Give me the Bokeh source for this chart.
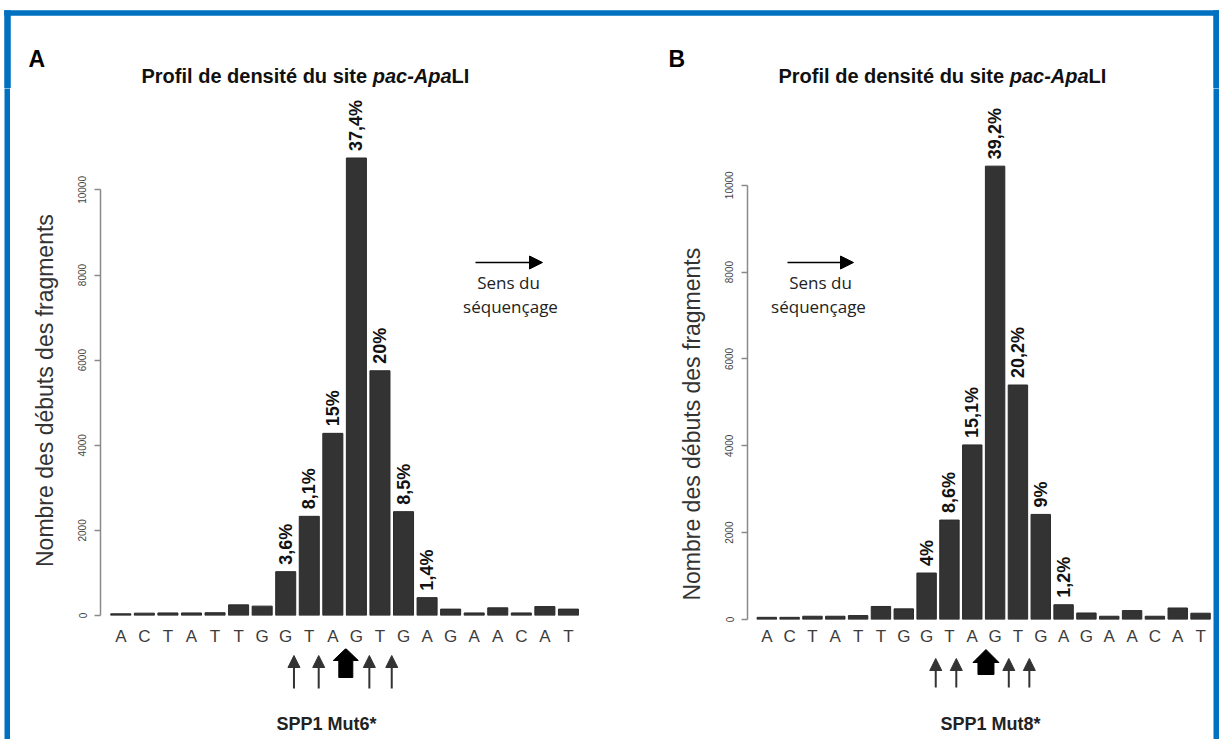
import math
from bokeh.plotting import figure
from bokeh.models import Range1d, FixedTicker, Arrow, NormalHead
from bokeh.layouts import row, column
from bokeh.embed import file_html
from bokeh.resources import INLINE
from bokeh.core.properties import value

# ---------------- data ----------------
letters = list("ACTATTGGTAGTGAGAACAT")
counts_A = [40, 55, 60, 60, 65, 250, 220, 1030, 2330, 4280, 10750, 5750, 2440, 420, 150, 60, 180, 60, 210, 150]
counts_B = [50, 50, 75, 75, 90, 300, 245, 1070, 2290, 4020, 10440, 5400, 2420, 340, 150, 75, 205, 75, 265, 145]
pct_idx = [7, 8, 9, 10, 11, 12, 13]
pct_A = ["3,6%", "8,1%", "15%", "37,4%", "20%", "8,5%", "1,4%"]
pct_B = ["4%", "8,6%", "15,1%", "39,2%", "20,2%", "9%", "1,2%"]
y_ticks = [0, 2000, 4000, 6000, 8000, 10000]
cut_sites_A = [7.35, 8.4, 9.55, 10.55, 11.5]
cut_sites_B = [7.4, 8.3, 9.6, 10.6, 11.5]
main_cut = 2
strain_A = "SPP1 Mut6*"
strain_B = "SPP1 Mut8*"
panel_letters = ["A", "B"]
title_parts = ["Profil de densité du site", "pac-Apa", "LI"]
y_label = "Nombre des débuts des fragments"
seq_label = ["Sens du", "séquençage"]

BLUE = "#0070C0"
BAR = "#333333"
FONT = "Liberation Sans"

# layout (page pixel) constants
PAGE_W = 1219
BORDER_TOP = 10
BORDER_BOT = 15
MAIN_TOP = 88
FOOT_TOP = 648
PAGE_BOTTOM = 739
LEFT_OUT = 4
CONTENT_LEFT = 10
CONTENT_RIGHT = 1213


def blank(w, h, x0, y0, fill="white"):
    b = figure(width=w, height=h, x_range=Range1d(x0, x0 + w), y_range=Range1d(y0 + h, y0),
               toolbar_location=None, output_backend="svg", min_border=0,
               x_axis_location=None, y_axis_location=None, outline_line_color=None,
               border_fill_color=fill, background_fill_color=fill)
    b.grid.visible = False
    return b


def make_panel(counts, pcts, sites, strain, g):
    slot = g["slot"]
    fl = g["frame_left_px"]
    x_start = (fl - g["x0_px"]) / slot
    x_end = x_start + g["frame_w"] / slot
    y_end = (g["base_py"] - MAIN_TOP) / g["yscale"]
    xr = Range1d(x_start, x_end)

    def xd(px):
        return x_start + (px - fl) / slot

    def yd(py):
        return (g["base_py"] - py) / g["yscale"]

    h_main = FOOT_TOP - MAIN_TOP
    lab = blank(g["lab_w"], h_main, g["x_left"], MAIN_TOP)
    lab.text(x=[g["ylab"][0]], y=[g["ylab"][1]], text=[y_label], angle=math.pi / 2,
             text_align="center", text_baseline="middle", text_font=value(FONT),
             text_font_size="23px", text_color="#333333")

    main_w = g["fig_w"] - g["lab_w"]
    left = fl - (g["x_left"] + g["lab_w"])
    right = main_w - left - g["frame_w"]
    p = figure(width=main_w, height=h_main, x_range=xr, y_range=Range1d(0, y_end),
               toolbar_location=None, output_backend="svg",
               min_border_left=left, min_border_right=right,
               min_border_top=0, min_border_bottom=g["mb_bottom"],
               outline_line_color=None)
    p.grid.visible = False

    idx = list(range(len(counts)))
    p.vbar(x=idx, top=counts, bottom=0, width=0.85, fill_color=BAR, line_color="#2a2a2a", line_width=1)

    p.text(x=pct_idx, y=[counts[i] for i in pct_idx], text=pcts, angle=math.pi / 2,
           text_align="left", text_baseline="middle", y_offset=-7,
           text_font=value(FONT), text_font_style="bold", text_font_size="18px", text_color="#111111")

    xa = p.xaxis[0]
    xa.ticker = FixedTicker(ticks=idx)
    xa.major_label_overrides = {i: l for i, l in enumerate(letters)}
    xa.axis_line_color = None
    xa.major_tick_line_color = None
    xa.minor_tick_line_color = None
    xa.major_tick_out = 0
    xa.major_tick_in = 0
    xa.major_label_standoff = g["std"]
    xa.major_label_text_font = FONT
    xa.major_label_text_font_size = "17px"
    xa.major_label_text_color = "#3c3c3c"

    ya = p.yaxis[0]
    ya.ticker = FixedTicker(ticks=y_ticks)
    ya.bounds = (0, 10000)
    ya.axis_line_color = "#8a8a8a"
    ya.axis_line_width = 1.5
    ya.major_tick_line_color = "#8a8a8a"
    ya.major_tick_line_width = 1.5
    ya.major_tick_out = 6
    ya.major_tick_in = 0
    ya.minor_tick_line_color = None
    ya.major_label_orientation = "vertical"
    ya.major_label_standoff = 8
    ya.major_label_text_font = FONT
    ya.major_label_text_font_size = "10px"
    ya.major_label_text_color = "#444444"

    sa = g["seq_arrow"]
    p.add_layout(Arrow(end=NormalHead(size=13, fill_color="black", line_color="black"),
                       x_start=xd(sa[0]), y_start=yd(sa[2]), x_end=xd(sa[1]), y_end=yd(sa[2]),
                       line_width=1.5, line_color="black"))
    p.text(x=[xd(g["seq_text"][0][0]), xd(g["seq_text"][1][0])],
           y=[yd(g["seq_text"][0][1]), yd(g["seq_text"][1][1])], text=seq_label,
           text_align="center", text_baseline="middle", text_font=value("Open Sans"),
           text_font_size="17px", text_color="#222222")

    f = figure(width=g["fig_w"], height=PAGE_BOTTOM - FOOT_TOP, x_range=xr,
               y_range=Range1d(PAGE_BOTTOM, FOOT_TOP), toolbar_location=None, output_backend="svg",
               min_border_left=fl - g["x_left"], min_border_right=right, min_border_top=0, min_border_bottom=0,
               x_axis_location=None, y_axis_location=None, outline_line_color=None)
    f.grid.visible = False
    ta = g["thin"]
    for k, s in enumerate(sites):
        if k == main_cut:
            tk = g["thick"]
            hh = tk["head_half"] / slot
            sh = tk["shaft_half"] / slot
            f.patch([s, s + hh, s + sh, s + sh, s - sh, s - sh, s - hh],
                    [tk["tip"], tk["base"], tk["base"], tk["bottom"], tk["bottom"], tk["base"], tk["base"]],
                    fill_color="black", line_color="black", line_width=1)
        else:
            f.add_layout(Arrow(end=NormalHead(size=12, fill_color="#333333", line_color="#333333"),
                               x_start=s, y_start=ta[1], x_end=s, y_end=ta[0],
                               line_width=2, line_color="#333333"))
    f.text(x=[xd(g["strain_pos"][0])], y=[g["strain_pos"][1]], text=[strain],
           text_align="center", text_baseline="middle", text_font=value(FONT),
           text_font_style="bold", text_font_size="18px", text_color="#222222")
    return column(row(lab, p, spacing=0), f, spacing=0)


geo_A = dict(x_left=10, fig_w=610, lab_w=60, frame_w=488, slot=23.56, x0_px=120.3, frame_left_px=100,
             base_py=618, yscale=0.0428, std=11, mb_bottom=30, ylab=(44, 409),
             seq_arrow=(475, 542, 263), seq_text=((508, 283), (510, 307)),
             thin=(655, 688), thick=dict(tip=648, base=660, bottom=677, head_half=12.5, shaft_half=7),
             strain_pos=(326, 723))
geo_B = dict(x_left=620, fig_w=593, lab_w=90, frame_w=465, slot=22.83, x0_px=766.3, frame_left_px=747,
             base_py=622, yscale=0.04367, std=7, mb_bottom=26, ylab=(691, 442),
             seq_arrow=(787, 853, 263), seq_text=((820, 283), (818, 307)),
             thin=(658, 687), thick=dict(tip=649, base=662, bottom=674, head_half=13, shaft_half=8),
             strain_pos=(990, 723))

panel_A = make_panel(counts_A, pct_A, cut_sites_A, strain_A, geo_A)
panel_B = make_panel(counts_B, pct_B, cut_sites_B, strain_B, geo_B)

# header: blue frame top and sides, panel letters and titles (page-pixel coordinates)
hdr = blank(PAGE_W, MAIN_TOP, 0, 0)
hdr.quad(left=[LEFT_OUT, LEFT_OUT, CONTENT_RIGHT], right=[PAGE_W + 2, CONTENT_LEFT, PAGE_W + 2],
         top=[BORDER_TOP, BORDER_TOP, BORDER_TOP], bottom=[BORDER_BOT, MAIN_TOP + 3, MAIN_TOP + 3],
         fill_color=BLUE, line_color=BLUE, line_width=0.5)
hdr.text(x=[28, 668], y=[45, 45], text=panel_letters, text_align="left", text_baseline="top",
         text_font=value(FONT), text_font_style="bold", text_font_size="23px", text_color="black")
TS = 20
w1 = 11.559 * TS
w2 = 3.945 * TS
for x0 in (141, 778):
    hdr.text(x=[x0], y=[75], text=[title_parts[0]], text_align="left", text_baseline="alphabetic",
             text_font=value(FONT), text_font_style="bold", text_font_size=f"{TS}px", text_color="#111111")
    hdr.text(x=[x0 + w1], y=[75], text=[title_parts[1]], text_align="left", text_baseline="alphabetic",
             text_font=value(FONT), text_font_style="bold italic", text_font_size=f"{TS}px", text_color="#111111")
    hdr.text(x=[x0 + w1 + w2], y=[75], text=[title_parts[2]], text_align="left", text_baseline="alphabetic",
             text_font=value(FONT), text_font_style="bold", text_font_size=f"{TS}px", text_color="#111111")

body_h = PAGE_BOTTOM - MAIN_TOP
lower = row(blank(LEFT_OUT, body_h, 0, MAIN_TOP),
            blank(CONTENT_LEFT - LEFT_OUT, body_h, LEFT_OUT, MAIN_TOP, fill=BLUE),
            panel_A, panel_B,
            blank(PAGE_W - CONTENT_RIGHT, body_h, CONTENT_RIGHT, MAIN_TOP, fill=BLUE), spacing=0)
layout = column(hdr, lower, spacing=0)

open("out.html", "w").write(file_html(layout, INLINE))
